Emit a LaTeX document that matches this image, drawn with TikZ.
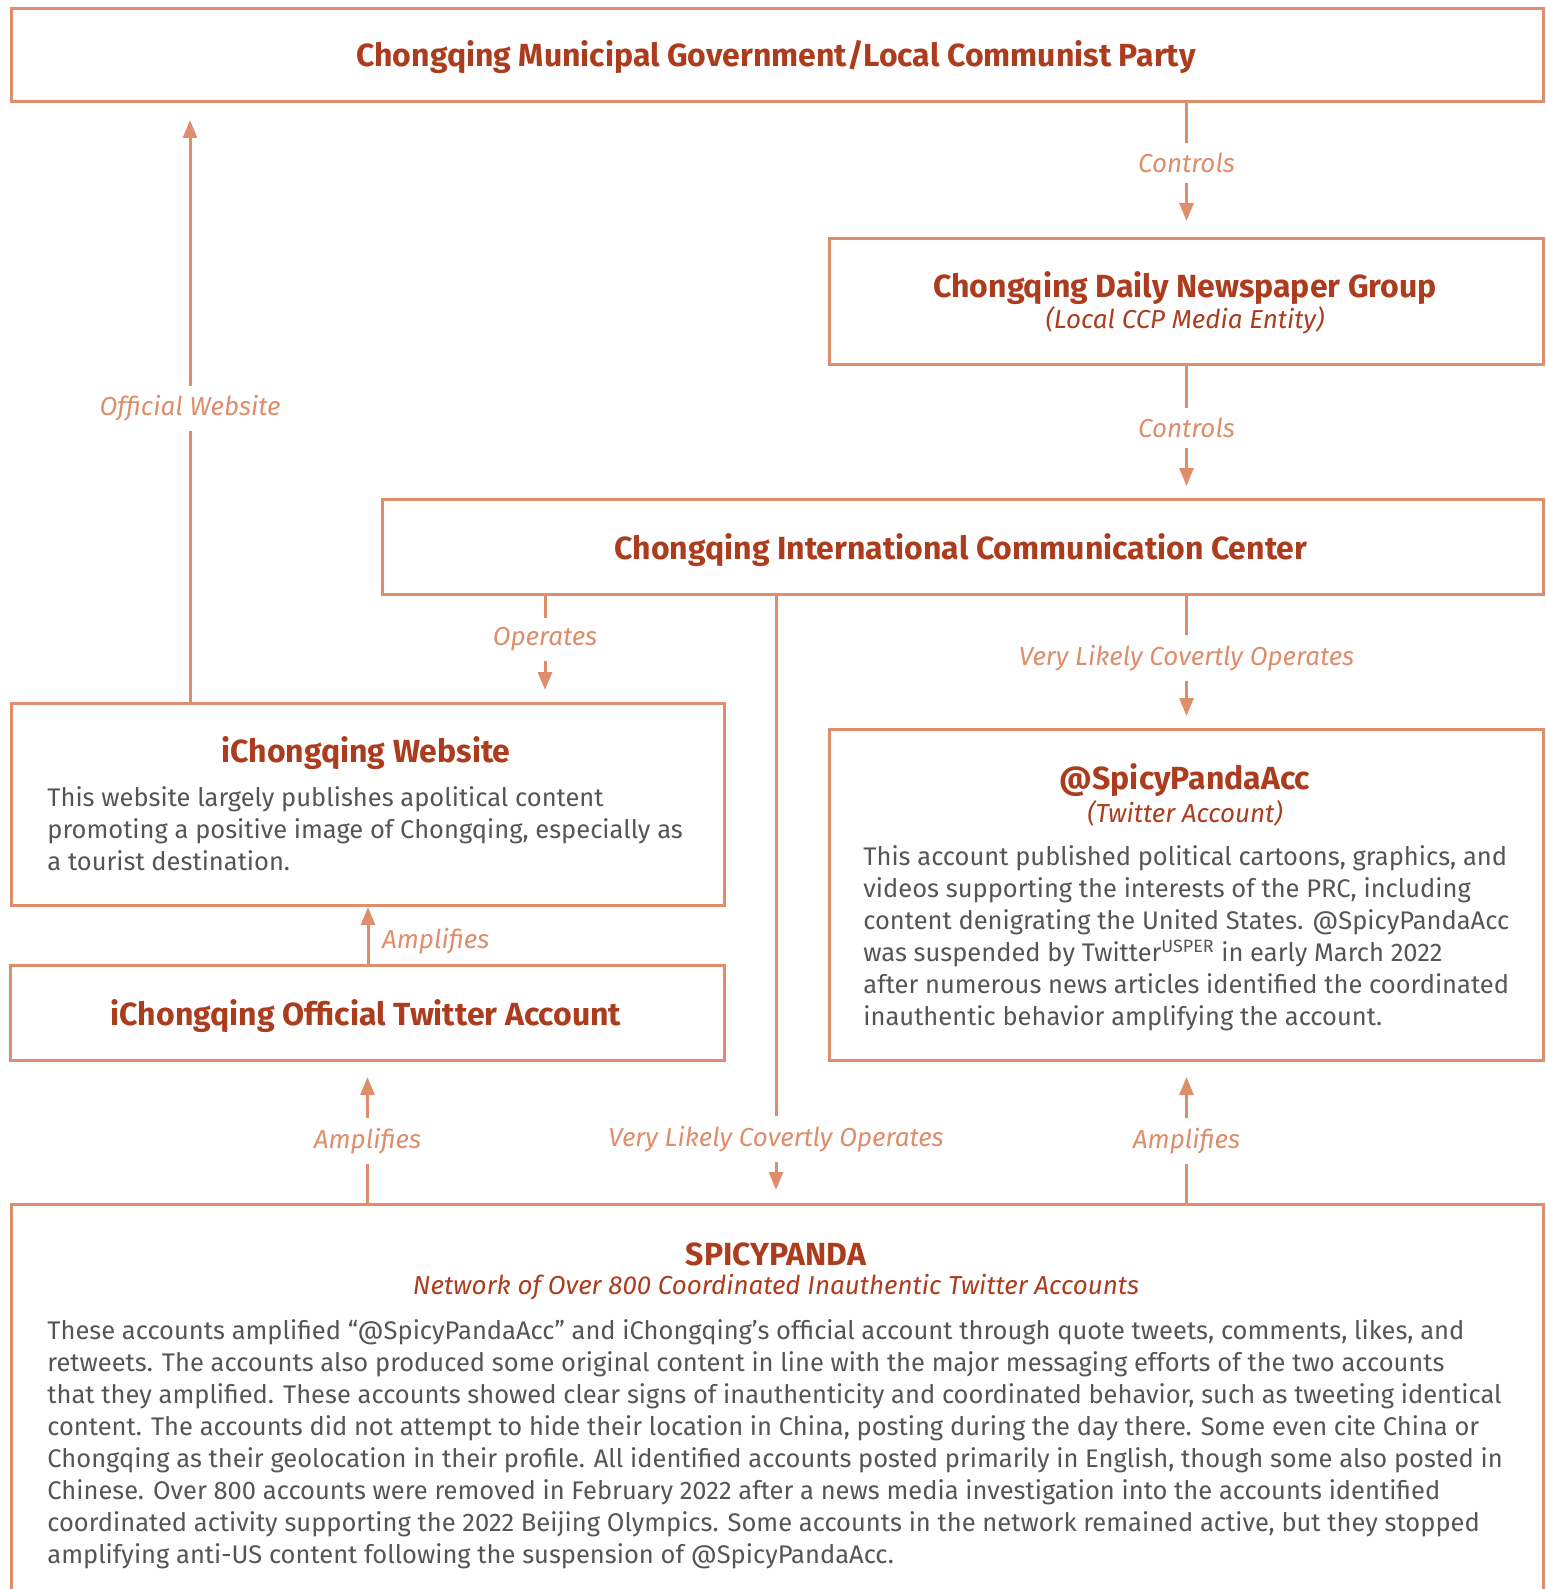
\documentclass[tikz,border=0pt]{standalone}
\usepackage{fontspec}
\setmainfont{Fira Sans}
\usetikzlibrary{arrows.meta,positioning}
\definecolor{edge}{RGB}{222,142,106}
\definecolor{headred}{RGB}{172,60,30}
\definecolor{bodygray}{RGB}{85,85,85}
\begin{document}
\begin{tikzpicture}[x=0.5pt,y=-0.5pt,
    box/.style={draw=edge,line width=1.5pt,rectangle,inner sep=0pt,anchor=north west},
    head/.style={text=headred,font=\fontsize{16}{19}\selectfont\bfseries,inner sep=0pt},
    sub/.style={text=headred,font=\fontsize{13}{15}\selectfont\itshape,inner sep=0pt},
    body/.style={text=bodygray,font=\fontsize{12.75}{16}\selectfont,align=left,anchor=north west,inner sep=0pt},
    lbl/.style={text=edge,font=\fontsize{13}{15}\selectfont\itshape,fill=white,inner sep=5pt},
    arr/.style={draw=edge,line width=1.5pt,-{Triangle[length=9pt,width=7pt]}}]
\useasboundingbox (0,0) rectangle (1546,1589);
% boxes
\node[box,minimum width=766pt,minimum height=46.5pt] (gov) at (10,7) {};
\node[box,minimum width=357pt,minimum height=63pt] (daily) at (828,237) {};
\node[box,minimum width=580.5pt,minimum height=47.5pt] (icc) at (381,498) {};
\node[box,minimum width=356.5pt,minimum height=101pt] (web) at (10,702) {};
\node[box,minimum width=357pt,minimum height=47.5pt] (itw) at (9,964) {};
\node[box,minimum width=357pt,minimum height=165.5pt] (acc) at (828,728) {};
\node[box,minimum width=766pt,minimum height=250pt] (net) at (10,1203) {};
% texts
\node[head] (govt) at (776,57) {Chongqing Municipal Government/Local Communist Party};
\node[head] (dailyt) at (1185,288) {Chongqing Daily Newspaper Group};
\node[sub] (dailys) at (1185,320) {(Local CCP Media Entity)};
\node[head] (icct) at (961,550) {Chongqing International Communication Center};
\node[head] (webt) at (366,753) {iChongqing Website};
\node[body] (webb) at (47,786) {This website largely publishes apolitical content\\
promoting a positive image of Chongqing, especially as\\
a tourist destination.};
\node[head] (itwt) at (366,1016) {iChongqing Official Twitter Account};
\node[head] (acct) at (1185,780) {@SpicyPandaAcc};
\node[sub] (accs) at (1185,813) {(Twitter Account)};
\node[body] (accb) at (863,845) {This account published political cartoons, graphics, and\\
videos supporting the interests of the PRC, including\\
content denigrating the United States. @SpicyPandaAcc\\
was suspended by Twitter\textsuperscript{USPER} in early March 2022\\
after numerous news articles identified the coordinated\\
inauthentic behavior amplifying the account.};
\node[head] (nett) at (776,1254) {SPICYPANDA};
\node[sub] (nets) at (776,1287) {Network of Over 800 Coordinated Inauthentic Twitter Accounts};
\node[body] (netb) at (47,1319) {These accounts amplified “@SpicyPandaAcc” and iChongqing’s official account through quote tweets, comments, likes, and\\
retweets. The accounts also produced some original content in line with the major messaging efforts of the two accounts\\
that they amplified. These accounts showed clear signs of inauthenticity and coordinated behavior, such as tweeting identical\\
content. The accounts did not attempt to hide their location in China, posting during the day there. Some even cite China or\\
Chongqing as their geolocation in their profile. All identified accounts posted primarily in English, though some also posted in\\
Chinese. Over 800 accounts were removed in February 2022 after a news media investigation into the accounts identified\\
coordinated activity supporting the 2022 Beijing Olympics. Some accounts in the network remained active, but they stopped\\
amplifying anti-US content following the suspension of @SpicyPandaAcc.};
% connectors
\draw[arr,shorten >=8pt] (gov.south -| daily.north) -- node[lbl,pos=0.45] {Controls} (daily.north);
\draw[arr,shorten >=6pt] (daily.south) -- node[lbl,pos=0.47] {Controls} (icc.north -| daily.south);
\draw[arr,shorten >=8.5pt] (web.north) ++(-178,0) coordinate (webup) -- node[lbl,pos=0.49] {Official Website} (webup |- gov.south);
\draw[arr,shorten >=6pt] (icc.south -| 545,0) -- node[lbl,pos=0.41] {Operates} (web.north -| 545,0);
\draw[arr,shorten >=6pt] (icc.south -| acc.north) -- node[lbl,pos=0.47] {Very Likely Covertly Operates} (acc.north);
\draw[arr,shorten >=6.5pt] (icc.south -| nett) -- node[lbl,pos=0.895] {Very Likely Covertly Operates} (net.north -| nett);
\draw[arr] (itw.north -| web.south) -- node[text=edge,font=\fontsize{13}{15}\selectfont\itshape,right=3pt,pos=0.4] {Amplifies} (web.south);
\draw[arr,shorten >=7.5pt] (net.north -| itw.south) -- node[lbl,pos=0.44] {Amplifies} (itw.south);
\draw[arr,shorten >=7.5pt] (net.north -| acc.south) -- node[lbl,pos=0.44] {Amplifies} (acc.south);
\end{tikzpicture}
\end{document}
